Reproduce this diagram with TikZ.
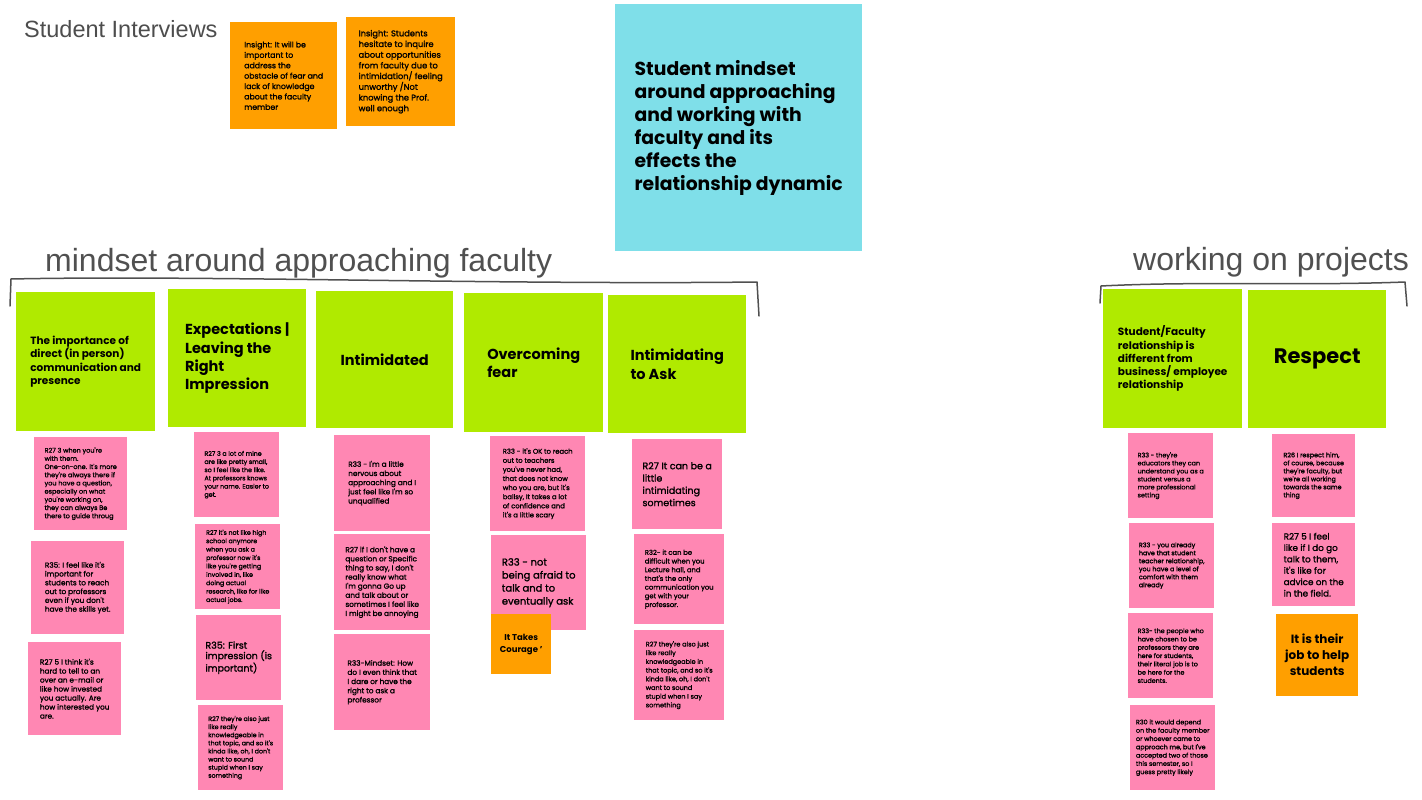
\documentclass[tikz,border=0pt]{standalone}
\usepackage{fontspec}
\usepackage{tikz}
\setmainfont{Poppins}
\newfontfamily\notefont[FakeBold=1.5]{Poppins}
\newfontfamily\titlefont{Liberation Sans}
\newfontfamily\handfont{Liberation Sans}
\definecolor{notepink}{HTML}{FF87B3}
\definecolor{notegreen}{HTML}{B0EA00}
\definecolor{noteorange}{HTML}{FF9F00}
\definecolor{notecyan}{HTML}{7FDFE9}
\definecolor{handgray}{HTML}{505050}
\definecolor{titlegray}{HTML}{4D4D4D}

\begin{document}
\begin{tikzpicture}[x=1pt,y=-1pt,
  sticky/.style={anchor=north west, inner sep=0pt, align=left, minimum size=#1},
  pinknote/.style={sticky=#1, fill=notepink, font=\notefont\fontsize{6.5}{8.2}\selectfont},
  orangenote/.style={sticky=#1, fill=noteorange, font=\notefont\fontsize{7.8}{10.4}\selectfont},
  headbox/.style={sticky=#1, fill=notegreen, font=\bfseries\fontsize{14.5}{18.2}\selectfont},
  hand/.style={anchor=base west, inner sep=0pt, text=handgray, font=\handfont\fontsize{32}{32}\selectfont},
  bracket/.style={draw=handgray, line width=1.5pt, line join=round, line cap=round}]

\useasboundingbox (0,0) rectangle (1422,800);

% title and insights
\node[anchor=base west, inner sep=0pt, text=titlegray, font=\titlefont\fontsize{23.5}{23.5}\selectfont] (title) at (24,38) {Student Interviews};
\node[orangenote=107pt] (insightA) at (230,22) {Insight: It will be\\important to\\address the\\obstacle of fear and\\lack of knowledge\\about the faculty\\member};
\node[orangenote=109pt, font=\notefont\fontsize{8.3}{10.7}\selectfont] (insightB) at (346,17) {Insight: Students\\hesitate to inquire\\about opportunities\\from faculty due to\\intimidation/ feeling\\unworthy /Not\\knowing the Prof.\\well enough};
\node[sticky=247pt, fill=notecyan, font=\bfseries\fontsize{18.8}{23}\selectfont] (theme) at (615,4) {Student mindset\\around approaching\\and working with\\faculty and its\\effects the\\relationship dynamic};

% groups
\node[hand] (mindset) at (45,271) {mindset around approaching faculty};
\node[hand] (projects) at (1133,270) {working on projects};
\draw[bracket] (10,306) -- (11,279) .. controls (200,275) and (500,285) .. (757,282) -- (759,316);
\draw[bracket] (1100,303) -- (1101,286) .. controls (1200,281) and (1300,286) .. (1405,282) -- (1407,306);

% headers
\node[headbox=139pt, font=\bfseries\fontsize{10.5}{13.3}\selectfont] (direct) at (16,292) {The importance of\\direct (in person)\\communication and\\presence};
\node[headbox=138pt] (expect) at (168,289) {Expectations |\\Leaving the\\Right\\Impression};
\node[headbox=137pt] (intim) at (316,291) {Intimidated};
\node[headbox=139pt] (fear) at (464,293) {Overcoming\\fear};
\node[headbox=138pt] (ask) at (608,295) {Intimidating\\to Ask};
\node[headbox=139pt, font=\bfseries\fontsize{10.5}{13.2}\selectfont] (business) at (1103,289) {Student/Faculty\\relationship is\\different from\\business/ employee\\relationship};
\node[headbox=138pt, font=\bfseries\fontsize{21}{24}\selectfont] (respect) at (1248,290) {Respect};

% direct
\node[pinknote=93pt] (d1) at (34,437) {R27 3 when you're\\with them.\\One-on-one. It's more\\they're always there if\\you have a question,\\especially on what\\you're working on,\\they can always Be\\there to guide throug};
\node[pinknote=93pt, font=\notefont\fontsize{7.3}{8.8}\selectfont] (d2) at (31,541) {R35: I feel like it's\\important for\\students to reach\\out to professors\\even if you don't\\have the skills yet.};
\node[pinknote=93pt, font=\notefont\fontsize{7.3}{9}\selectfont] (d3) at (28,642) {R27 5  I think it's\\hard to tell to an\\over an e-mail or\\like how invested\\you actually.  Are\\how interested you\\are.};

% expectations
\node[pinknote=85pt, font=\notefont\fontsize{6.3}{8.2}\selectfont] (e1) at (194,432) {R27 3  a lot of mine\\are like pretty small,\\so I feel like the like.\\At professors knows\\your name. Easier to\\get.};
\node[pinknote=85pt, font=\notefont\fontsize{6.3}{8.4}\selectfont] (e2) at (195,524) {R27 it's not like high\\school anymore\\when you ask a\\professor now it's\\like you're getting\\involved in, like\\doing actual\\research, like for like\\actual jobs.};
\node[pinknote=85pt, font=\notefont\fontsize{9.5}{10.5}\selectfont] (e3) at (196,615) {R35: First\\impression (is\\important)};
\node[pinknote=85pt, font=\notefont\fontsize{6.3}{8.1}\selectfont] (e4) at (198,705) {R27 they're also just\\like really\\knowledgeable in\\that topic, and so it's\\kinda like, oh, I don't\\want to sound\\stupid when I say\\something};

% intimidated
\node[pinknote=96pt, font=\notefont\fontsize{7.3}{9.2}\selectfont] (i1) at (334,435) {R33 - I'm a little\\nervous about\\approaching and I\\just feel like I'm so\\unqualified};
\node[pinknote=96pt, font=\notefont\fontsize{7.3}{9.1}\selectfont] (i2) at (334,534) {R27 if I don't have a\\question or Specific\\thing to say, I don't\\really know what\\I'm gonna Go up\\and talk about or\\sometimes I feel like\\I might be annoying};
\node[pinknote=96pt, font=\notefont\fontsize{7.3}{9.2}\selectfont] (i3) at (334,634) {R33-Mindset: How\\do I even think that\\I dare or have the\\right to ask a\\professor};

% overcoming fear
\node[pinknote=95pt, font=\notefont\fontsize{6.8}{9.1}\selectfont] (f1) at (490,436) {R33 - it's OK to reach\\out to teachers\\you've never had,\\that does not know\\who you are, but it's\\ballsy, It takes a lot\\of confidence and\\it's a little scary};
\node[pinknote=95pt, font=\notefont\fontsize{10}{13}\selectfont] (f2) at (491,535) {R33 - not\\being afraid to\\talk and to\\eventually ask};
\node[orangenote=60pt, align=center, font=\bfseries\fontsize{8.5}{12}\selectfont] (courage) at (491,614) {It Takes\\Courage '};

% intimidating to ask
\node[pinknote=90pt, font=\notefont\fontsize{9.5}{12.3}\selectfont] (a1) at (632,439) {R27 It can be a\\little\\intimidating\\sometimes};
\node[pinknote=90pt, font=\notefont\fontsize{6.8}{8.7}\selectfont] (a2) at (634,534) {R32- it can be\\difficult when you\\Lecture hall, and\\that's the only\\communication you\\get with your\\professor.};
\node[pinknote=90pt, font=\notefont\fontsize{6.5}{8.7}\selectfont] (a3) at (634,630) {R27 they're also just\\like really\\knowledgeable in\\that topic, and so it's\\kinda like, oh, I don't\\want to sound\\stupid when I say\\something};

% business relationship
\node[pinknote=85pt, font=\notefont\fontsize{6.4}{8}\selectfont] (b1) at (1128,433) {R33 - they're\\educators they can\\understand you as a\\student versus a\\more professional\\setting};
\node[pinknote=85pt, font=\notefont\fontsize{6.4}{8}\selectfont] (b2) at (1129,523) {R33 - you already\\have that student\\teacher relationship,\\you have a level of\\comfort with them\\already};
\node[pinknote=85pt, font=\notefont\fontsize{6.4}{8.3}\selectfont] (b3) at (1128,613) {R33- the people who\\have chosen to be\\professors they are\\here for students,\\their literal job is to\\be here for the\\students.};
\node[pinknote=85pt, font=\notefont\fontsize{6.4}{8.3}\selectfont] (b4) at (1130,705) {R30 it would depend\\on the faculty member\\or whoever came to\\approach me, but I've\\accepted two of those\\this semester, so I\\guess pretty likely};

% respect
\node[pinknote=83pt, font=\notefont\fontsize{6.4}{8}\selectfont] (r1) at (1272,434) {R26  I respect him,\\of course, because\\they're faculty, but\\we're all working\\towards the same\\thing};
\node[pinknote=83pt, font=\notefont\fontsize{8.8}{11.4}\selectfont] (r2) at (1272,523) {R27 5 I feel\\like if I do go\\talk to them,\\it's like for\\advice on the\\in the field.};
\node[orangenote=82pt, align=center, font=\bfseries\fontsize{12}{16}\selectfont] (job) at (1276,614) {It is their\\job to help\\students};

\end{tikzpicture}
\end{document}
